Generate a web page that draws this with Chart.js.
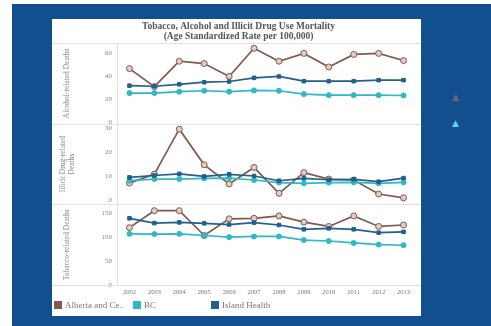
<!DOCTYPE html>
<html>
<head>
<meta charset="utf-8">
<script src="https://cdn.jsdelivr.net/npm/chart.js@4.4.1/dist/chart.umd.min.js"></script>
<style>
html,body{margin:0;padding:0;background:#fff;width:491px;height:326px;overflow:hidden}
#bg{position:absolute;left:12px;top:4px;width:479px;height:322px;background:#134f8e}
#panel{position:absolute;left:52px;top:19px;width:369px;height:297px;background:#fff}
#chart{position:absolute;left:0;top:0}
#legend{position:absolute;left:0;top:281px;width:369px;height:12px;font:9px "Liberation Serif","DejaVu Serif",serif;color:#777}
.item{position:absolute;top:0;white-space:nowrap;line-height:11px}
.sw{display:inline-block;width:8px;height:8px;margin-right:3px;vertical-align:-1px}
.tri{position:absolute;left:452px;font:9px "DejaVu Sans",sans-serif}
</style>
</head>
<body>
<div id="bg"></div>
<div id="panel">
  <canvas id="chart" width="369" height="297"></canvas>
  <div id="legend"></div>
</div>
<span class="tri" style="top:92px;color:#7b6470">▲</span>
<span class="tri" style="top:118px;color:#5fd2f0">▲</span>
<script>
const years = ["2002","2003","2004","2005","2006","2007","2008","2009","2010","2011","2012","2013"]
const seriesNames = ["Alberta and Ce..","BC","Island Health"]
const seriesColors = ["#7e5a4f","#2fb8c5","#21608d"]

const alcAlberta = [46.8,31.2,53.2,51.2,40,64.4,53.2,60,48.2,59.1,60,53.8]
const alcBC = [25.6,25.6,26.8,27.6,26.8,27.9,27.6,24.7,23.8,23.8,23.8,23.5]
const alcIsland = [32,31.5,33.2,35,35.6,38.8,40,35.9,35.9,35.9,36.8,36.8]

const drugAlberta = [7.0,10.8,29.7,14.7,6.6,13.6,2.7,11.4,8.7,8.3,2.4,0.8]
const drugBC = [8.0,8.7,8.7,9.0,9.1,8.3,7.2,6.9,7.2,7.3,6.9,7.3]
const drugIsland = [9.4,10.2,10.9,9.8,10.7,10.0,8.0,9.0,8.4,8.6,7.6,9.1]

const tobAlberta = [120.5,156,156,104,139,140,145,132,123,145,123,126]
const tobBC = [107.5,107,107.5,104,100.7,102,102,94.5,92.5,88.4,85,83.6]
const tobIsland = [140,130,131.5,129.5,127,131,126,117,119,117,110,111.6]

const alcTicks = [0,20,40,60]
const drugTicks = [0,10,20,30]
const tobTicks = [0,50,100,150]

const titleLines = ["Tobacco, Alcohol and Illicit Drug Use Mortality","(Age Standardized Rate per 100,000)"]

const serif = "'Liberation Serif','DejaVu Serif',serif"
const tickFont = { family:serif, size:7 }
const lineGrey = "#e2e2e2"

// html legend
const legendEl = document.getElementById("legend")
const legendX = [2,81,159]
seriesNames.forEach((n,i)=>{
  const d = document.createElement("div")
  d.className = "item"
  d.style.left = legendX[i]+"px"
  d.innerHTML = `<span class="sw" style="background:${seriesColors[i]}"></span>${n}`
  legendEl.appendChild(d)
})

function ds(data, axis, idx){
  const alberta = idx===0
  return {
    label: seriesNames[idx],
    data: data,
    yAxisID: axis,
    borderColor: seriesColors[idx],
    backgroundColor: alberta ? "#e6cbc3" : seriesColors[idx],
    pointBorderColor: seriesColors[idx],
    pointBackgroundColor: alberta ? "#e6cbc3" : seriesColors[idx],
    pointStyle: idx===2 ? "rect" : "circle",
    pointRadius: alberta ? 3 : 2.5,
    pointBorderWidth: 1,
    borderWidth: 1.7,
    tension: 0
  }
}

function yAxis(ticks, min, max, title, titlePad){
  return {
    type:"linear",
    position:"left",
    stack:"panels",
    stackWeight:1,
    min:min, max:max,
    afterBuildTicks: s => { s.ticks = ticks.map(v=>({value:v})) },
    afterFit: s => { s.width = 59 },
    grid:{ display:false, drawTicks:false },
    border:{ display:true, color:lineGrey, width:1 },
    ticks:{ font:tickFont, color:"#888", padding:5 },
    title:{ display:true, text:title, font:{ family:serif, size:7.5 }, color:"#888", padding:{ top:titlePad, bottom:0 } }
  }
}

const separators = {
  id:"separators",
  afterDraw(chart){
    const c = chart.ctx
    const ys = [chart.scales.yAlc.top, chart.scales.yDrug.top, chart.scales.yTob.top, chart.chartArea.bottom]
    c.save()
    c.strokeStyle = lineGrey
    c.lineWidth = 1
    ys.forEach(y=>{
      const yy = Math.round(y)+0.5
      c.beginPath(); c.moveTo(0,yy); c.lineTo(chart.width,yy); c.stroke()
    })
    c.restore()
  }
}

new Chart(document.getElementById("chart"),{
  type:"line",
  data:{
    labels: years,
    datasets:[
      ds(alcIsland,"yAlc",2), ds(alcBC,"yAlc",1), ds(alcAlberta,"yAlc",0),
      ds(drugIsland,"yDrug",2), ds(drugBC,"yDrug",1), ds(drugAlberta,"yDrug",0),
      ds(tobIsland,"yTob",2), ds(tobBC,"yTob",1), ds(tobAlberta,"yTob",0)
    ]
  },
  options:{
    responsive:false,
    animation:false,
    layout:{ padding:{ left:6, right:2, top:0, bottom:17 } },
    plugins:{
      legend:{ display:false },
      tooltip:{ enabled:false },
      title:{ display:true, text:titleLines, color:"#555", font:{ family:serif, size:9.5, weight:"bold", lineHeight:1 }, padding:{ top:3, bottom:2 } }
    },
    scales:{
      x:{ type:"category", offset:true, grid:{ display:false, drawTicks:false }, border:{ display:false },
          ticks:{ font:{ family:serif, size:6.5 }, color:"#777", maxRotation:0, autoSkip:false, padding:3 } },
      yTob: yAxis(tobTicks, 0, 169, "Tobacco-related Deaths", 5),
      yDrug: yAxis(drugTicks, -2, 32, ["Illicit Drug-related","Deaths"], 1),
      yAlc: yAxis(alcTicks, -1, 69, "Alcohol-related Deaths", 5)
    }
  },
  plugins:[separators]
})
</script>
</body>
</html>
